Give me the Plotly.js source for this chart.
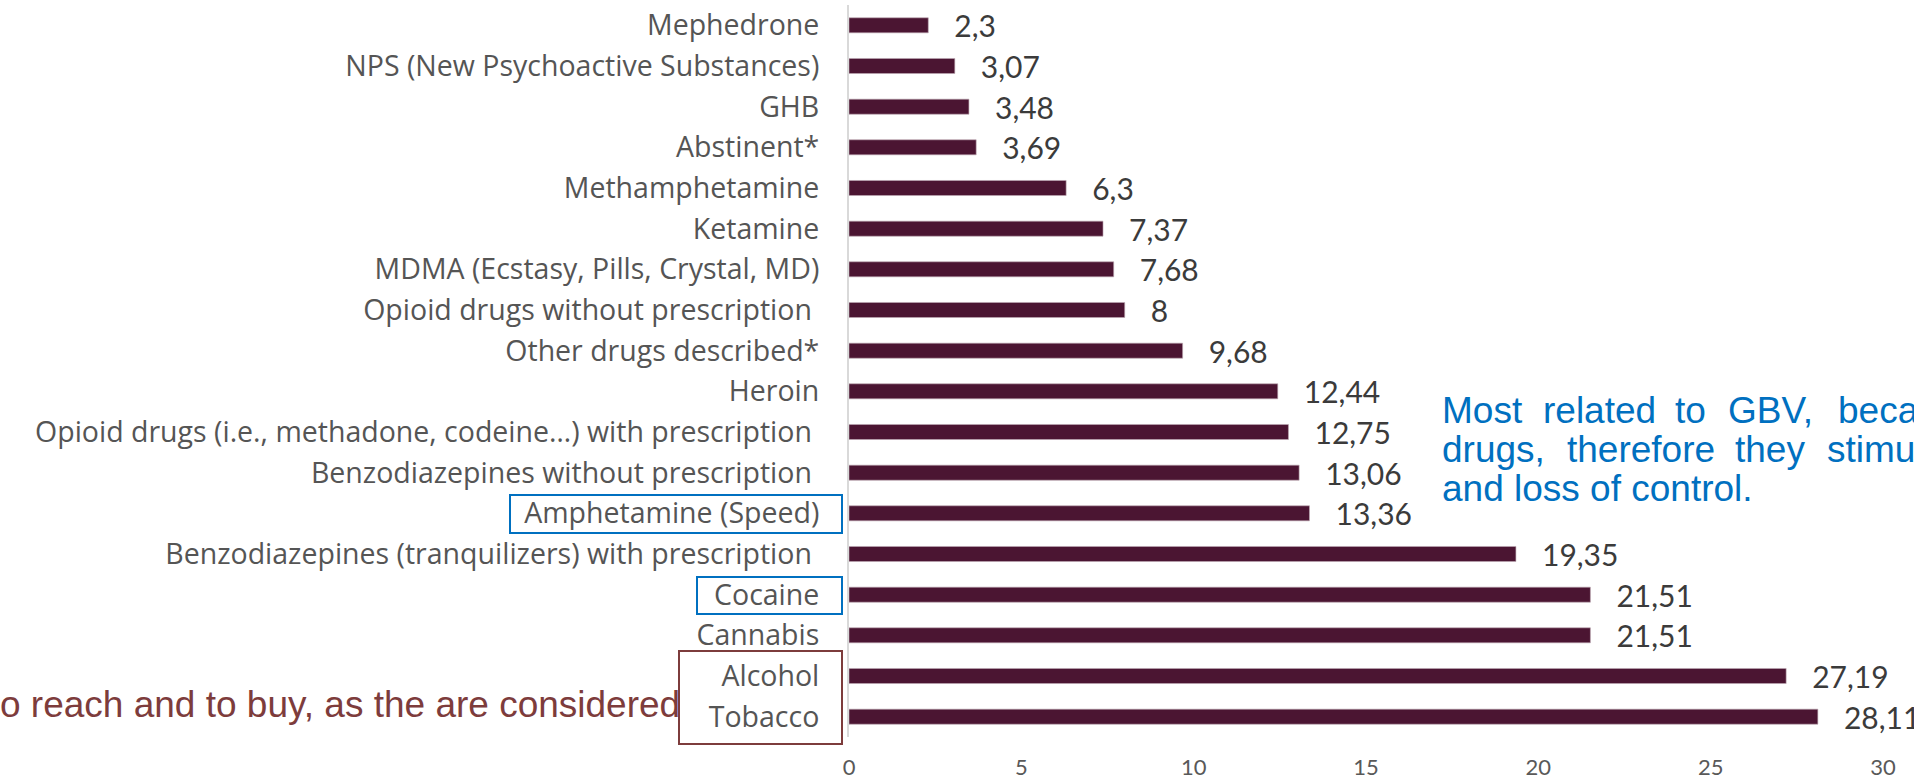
<!DOCTYPE html>
<html>
<head>
<meta charset="utf-8">
<script src="https://cdn.plot.ly/plotly-3.0.1.min.js"></script>
<style>
  html, body { margin: 0; padding: 0; background: #ffffff; overflow: hidden; }
  #chart { width: 1914px; height: 781px; }
</style>
</head>
<body>
<div id="chart"></div>
<script>
// ---- data ----
const categories = [
  'Mephedrone',
  'NPS (New Psychoactive Substances)',
  'GHB',
  'Abstinent*',
  'Methamphetamine',
  'Ketamine',
  'MDMA (Ecstasy, Pills, Crystal, MD)',
  'Opioid drugs without prescription\u00a0',
  'Other drugs described*',
  'Heroin',
  'Opioid drugs (i.e., methadone, codeine\u2026) with prescription\u00a0',
  'Benzodiazepines without prescription\u00a0',
  'Amphetamine (Speed)',
  'Benzodiazepines (tranquilizers) with prescription\u00a0',
  'Cocaine',
  'Cannabis',
  'Alcohol',
  'Tobacco'
];
const values = [2.3, 3.07, 3.48, 3.69, 6.3, 7.37, 7.68, 8, 9.68, 12.44, 12.75, 13.06, 13.36, 19.35, 21.51, 21.51, 27.19, 28.11];
const xTicks = [0, 5, 10, 15, 20, 25, 30];
const valueLabels = values.map(v => '\u00a0\u00a0\u00a0' + String(v).replace('.', ','));

const noteBlueLine1 = ['Most', 'related', 'to', 'GBV,', 'beca'];
const noteBlueLine2 = ['drugs,', 'therefore', 'they', 'stimu'];
const noteBlueLine3 = 'and loss of control.';
const noteBrown = 'o reach and to buy, as the are considered';

// ---- layout geometry (pixels) ----
const W = 1914, H = 781;
const M = { l: 849, r: 31, t: 5, b: 44 };
const PW = W - M.l - M.r, PH = H - M.t - M.b;
const px = x => (x - M.l) / PW;
const py = y => 1 - (y - M.t) / PH;

const blue = '#0070c0';
const brown = '#7d3c3c';

const line1X = [1442, 1543, 1675, 1728, 1838];
const line2X = [1442, 1567, 1735, 1827];

const annotations = [];
function addText(text, x, y, color) {
  annotations.push({
    xref: 'paper', yref: 'paper', x: px(x), y: py(y),
    xanchor: 'left', yanchor: 'middle', showarrow: false,
    text: text, borderpad: 0,
    font: { family: 'Liberation Sans, Arial, sans-serif', size: 37, color: color }
  });
}
noteBlueLine1.forEach((w, i) => addText(w, line1X[i] - 1, 411, blue));
noteBlueLine2.forEach((w, i) => addText(w, line2X[i] - 1, 450, blue));
addText(noteBlueLine3, 1441, 489, blue);
addText(noteBrown, -1, 704, brown);

function box(x0, y0, x1, y1, color) {
  return {
    type: 'rect', xref: 'paper', yref: 'paper', layer: 'above',
    x0: px(x0), x1: px(x1), y0: py(y1), y1: py(y0),
    line: { color: color, width: 2 }, fillcolor: 'rgba(0,0,0,0)'
  };
}
const shapes = [
  box(510, 495, 842, 533, blue),
  box(697, 577, 842, 614, blue),
  box(679, 651, 842, 744, brown)
];

const trace = {
  type: 'bar',
  orientation: 'h',
  x: values,
  y: categories,
  marker: { color: '#4b1532', line: { color: 'rgba(190,170,180,0.6)', width: 1 } },
  text: valueLabels,
  textposition: 'outside',
  constraintext: 'none',
  cliponaxis: false,
  textfont: { family: 'Lato, sans-serif', size: 30, color: '#3b3b3b' },
  hoverinfo: 'none'
};

const layout = {
  width: W, height: H,
  margin: M,
  paper_bgcolor: '#ffffff',
  plot_bgcolor: '#ffffff',
  showlegend: false,
  bargap: 0.63,
  font: { family: 'Lato, sans-serif' },
  xaxis: {
    range: [0, 30],
    tickvals: xTicks,
    ticktext: xTicks.map(String),
    showgrid: false, zeroline: false, showline: false,
    ticks: '',
    ticklabelstandoff: 15,
    tickfont: { family: 'Lato, sans-serif', size: 22, color: '#595959' },
    fixedrange: true
  },
  yaxis: {
    type: 'category',
    autorange: 'reversed',
    showgrid: false, zeroline: false,
    showline: true, linecolor: '#d9d9d9', linewidth: 2,
    ticks: '',
    ticklabelstandoff: 22,
    tickfont: { family: 'Open Sans, sans-serif', size: 28.5, color: '#555555' },
    fixedrange: true
  },
  annotations: annotations,
  shapes: shapes
};

Plotly.newPlot('chart', [trace], layout, { displayModeBar: false, staticPlot: true });
</script>
</body>
</html>
